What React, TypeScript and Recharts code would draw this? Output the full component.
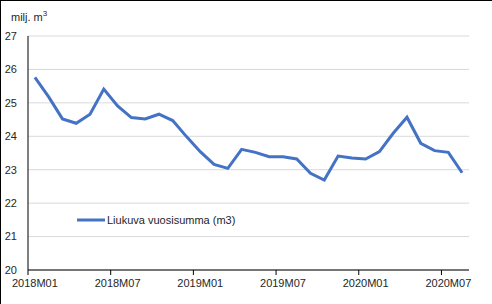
import { LineChart, Line, XAxis, YAxis, CartesianGrid, Legend } from 'recharts'

const months = [
  '2018M01', '2018M02', '2018M03', '2018M04', '2018M05', '2018M06',
  '2018M07', '2018M08', '2018M09', '2018M10', '2018M11', '2018M12',
  '2019M01', '2019M02', '2019M03', '2019M04', '2019M05', '2019M06',
  '2019M07', '2019M08', '2019M09', '2019M10', '2019M11', '2019M12',
  '2020M01', '2020M02', '2020M03', '2020M04', '2020M05', '2020M06',
  '2020M07', '2020M08',
]

const rollingSum = [
  25.76, 25.18, 24.52, 24.39, 24.66, 25.41, 24.91, 24.56, 24.52, 24.66,
  24.47, 23.99, 23.54, 23.16, 23.04, 23.61, 23.52, 23.39, 23.39, 23.32,
  22.89, 22.69, 23.41, 23.35, 23.32, 23.54, 24.09, 24.57, 23.79, 23.57,
  23.52, 22.91,
]

const yTicks = [20, 21, 22, 23, 24, 25, 26, 27]
// tick marks sit between categories (every 6 months)
const xTicks = [-0.5, 5.5, 11.5, 17.5, 23.5, 29.5]

const SERIES_NAME = 'Liukuva vuosisumma (m3)'
const LINE_COLOR = '#4472C4'
const FONT = '"Liberation Sans", Arial, sans-serif'

const data = months.map((m, i) => ({ i, month: m, value: rollingSum[i] }))

const CHART_W = 491
const CHART_H = 303
const MARGIN = { top: 35, right: 23, bottom: 0, left: 0 }
const Y_AXIS_W = 27
const HALF_STEP = (CHART_W - MARGIN.left - MARGIN.right - Y_AXIS_W) / months.length / 2

const MonthTick = (props: any) => {
  const { x, y, payload } = props
  const label = months[Math.round(payload.value + 0.5)]
  return (
    <text
      x={x + HALF_STEP}
      y={y}
      dy="0.71em"
      textAnchor="middle"
      fill="#262626"
      fontSize={11}
      fontFamily={FONT}
    >
      {label}
    </text>
  )
}

const LegendContent = () => (
  <div style={{ display: 'flex', alignItems: 'center', fontFamily: FONT, fontSize: 11, color: '#262626' }}>
    <svg width={28} height={6}>
      <line x1={0} y1={3} x2={28} y2={3} stroke={LINE_COLOR} strokeWidth={3} />
    </svg>
    <span style={{ marginLeft: 2 }}>{SERIES_NAME}</span>
  </div>
)

export default function App() {
  return (
    <div
      style={{
        position: 'absolute',
        left: 0,
        top: 0,
        width: 492,
        height: 304,
        boxSizing: 'border-box',
        borderTop: '1px solid #000',
        borderLeft: '1px solid #000',
        background: '#fff',
      }}
    >
      <div
        style={{
          position: 'absolute',
          left: 10,
          top: 9,
          fontFamily: FONT,
          fontSize: 11,
          lineHeight: '14px',
          color: '#262626',
        }}
      >
        milj. m<sup style={{ fontSize: 8, lineHeight: 0 }}>3</sup>
      </div>
      <LineChart width={CHART_W} height={CHART_H} data={data} margin={MARGIN}>
        <CartesianGrid horizontal vertical={false} stroke="#d9d9d9" />
        <XAxis
          dataKey="i"
          type="number"
          domain={[-0.5, 31.5]}
          ticks={xTicks}
          interval={0}
          height={34}
          tick={<MonthTick />}
          tickSize={5}
          tickMargin={4}
          stroke="#000"
          allowDecimals
        />
        <YAxis
          domain={[20, 27]}
          ticks={yTicks}
          width={Y_AXIS_W}
          tickLine={false}
          tickMargin={5}
          stroke="#000"
          tick={{ fill: '#262626', fontSize: 11, fontFamily: FONT }}
          interval={0}
        />
        <Legend
          layout="horizontal"
          verticalAlign="middle"
          align="center"
          content={<LegendContent />}
          wrapperStyle={{ left: 76, top: 213, width: 200 }}
        />
        <Line
          type="linear"
          dataKey="value"
          name={SERIES_NAME}
          stroke={LINE_COLOR}
          strokeWidth={3}
          dot={false}
          isAnimationActive={false}
        />
      </LineChart>
    </div>
  )
}
